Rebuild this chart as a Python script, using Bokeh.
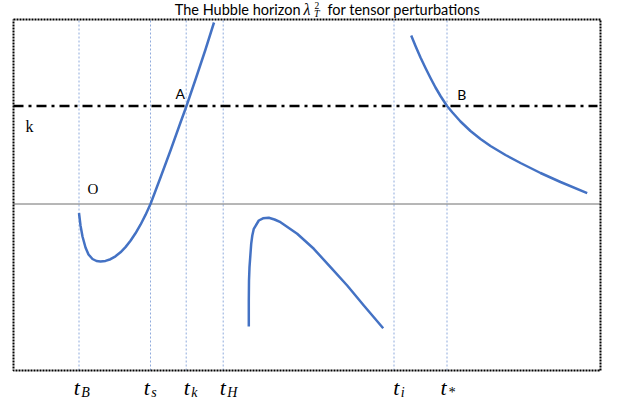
from bokeh.plotting import figure
from bokeh.models import Label, Range1d
from bokeh.embed import file_html
from bokeh.resources import INLINE

# ---- data (abstract units: x = time axis, y = Hubble horizon value) ----
c1_x = [65.5, 67, 69, 72, 75, 79, 83, 87, 92, 97, 102, 107, 112, 117, 122, 127, 132, 137, 147, 157, 167, 173, 182, 192, 200.5]
c1_y = [-9, -21.5, -32.5, -43.5, -50.5, -55, -57, -57.5, -56.9, -55.2, -52.3, -48.3, -43.1, -36.8, -29.3, -20.7, -10.9, 0, 26.5, 53.5, 81.5, 98, 124.5, 154.5, 181.5]

c2_x = [235.3, 235.3, 235.5, 236, 237.7, 238.8, 240.3, 245.3, 249.5, 255.3, 261, 267, 283.7, 300.3, 317, 333.7, 350.3, 369.7]
c2_y = [-122.5, -96.5, -76.5, -63.2, -39.8, -31.5, -24.8, -16.5, -14.3, -13.8, -15.5, -18.2, -29.8, -44.8, -63.2, -81.5, -101.5, -124.2]

c3_x = [397.7, 402, 407, 412, 417, 422, 427, 433.5, 439, 447, 457, 467, 477, 492, 507, 527, 547, 573.7]
c3_y = [168.5, 158, 146.5, 136, 126, 116.5, 108, 98, 91.5, 82.5, 73, 65, 58, 49, 41, 31, 22, 10.8]

k_level = 98
tick_pos = [65.5, 137, 172.7, 209.7, 380.5, 433.5]
tick_sub = ["B", "s", "k", "H", "i", "*"]
tick_label_x = [60.3, 130.3, 170.3, 206.3, 379.7, 427]

# plot box (data extent)
X0, X1 = 0, 587
Y0, Y1 = -166.5, 184.5

p = figure(width=609, height=403, output_backend="svg", toolbar_location=None,
           x_axis_type=None, y_axis_type=None,
           x_range=Range1d(-13, 596), y_range=Range1d(-199.5, 203.5),
           min_border=0)
p.grid.visible = False
p.outline_line_color = None
p.background_fill_color = "white"
p.border_fill_color = "white"

# vertical dotted guide lines
p.segment(x0=tick_pos, y0=[Y0] * len(tick_pos), x1=tick_pos, y1=[Y1] * len(tick_pos),
          line_color="#8FAADC", line_width=1, line_dash="2 2")

# zero line
p.segment(x0=[X0], y0=[0], x1=[X1], y1=[0], line_color="#6f6f6f", line_width=1)
# k level dash-dot
p.segment(x0=[X0], y0=[k_level], x1=[584], y1=[k_level], line_color="black",
          line_width=2.5, line_dash="10 5 3 5")

blue = "#4472C4"
for xs, ys in [(c1_x, c1_y), (c2_x, c2_y), (c3_x, c3_y)]:
    p.line(xs, ys, line_color=blue, line_width=2.5, line_join="round")

# dotted box
p.line([X0, X1, X1, X0, X0], [Y1, Y1, Y0, Y0, Y1], line_color="black",
       line_width=2, line_dash="2 1")

serif = "Liberation Serif"
sans = "Lato"

def lab(x, y, text, font, size, style="normal", align="left"):
    p.add_layout(Label(x=x, y=y, text=text, text_font=font, text_font_size=size,
                       text_font_style=style, text_align=align,
                       text_baseline="alphabetic", text_color="black"))

lab(12, 77.5, "k", serif, "16px")
lab(74, 15.5, "O", serif, "15px")
lab(162, 110.2, "A", sans, "14px")
lab(443.7, 109.5, "B", sans, "14px")

# title
lab(287, 195, "The Hubble horizon", sans, "14.5px", align="right")
lab(290, 195, "λ", serif, "16px", style="italic")
lab(301, 198.5, "2", serif, "9.5px")
lab(300.5, 191, "T", serif, "10px", style="italic")
lab(314, 195, "for tensor perturbations", sans, "14.5px")

# bottom tick labels
for lx, sub in zip(tick_label_x, tick_sub):
    lab(lx, -183.5, "t", serif, "22px", style="italic")
    lab(lx + 7.5, -188, sub, serif, "14px", style="italic")

open("out.html", "w").write(file_html(p, INLINE))
